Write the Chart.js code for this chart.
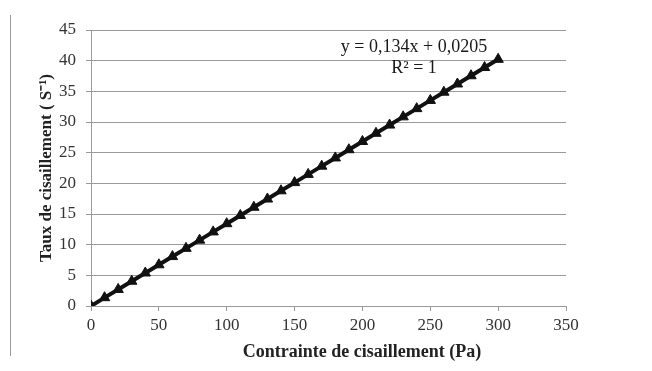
<!DOCTYPE html>
<html>
<head>
<meta charset="utf-8">
<script src="https://cdn.jsdelivr.net/npm/chart.js@4/dist/chart.umd.min.js"></script>
<style>
html,body{margin:0;padding:0;background:#fff;}
#wrap{width:652px;height:371px;position:relative;}
</style>
</head>
<body>
<div id="wrap"><canvas id="c" width="652" height="371"></canvas></div>
<script>
const shearStress = [0,10,20,30,40,50,60,70,80,90,100,110,120,130,140,150,160,170,180,190,200,210,220,230,240,250,260,270,280,290,300];
const shearRate = [0,1.36,2.70,4.04,5.38,6.72,8.06,9.40,10.74,12.08,13.42,14.76,16.10,17.44,18.78,20.12,21.46,22.80,24.14,25.48,26.82,28.16,29.50,30.84,32.18,33.52,34.86,36.20,37.54,38.88,40.22];
const xTicks = [0,50,100,150,200,250,300,350];
const yTicks = [0,5,10,15,20,25,30,35,40,45];
const eqLine1 = 'y = 0,134x + 0,0205';
const eqLine2 = 'R² = 1';
const xTitle = 'Contrainte de cisaillement (Pa)';
const yTitle = 'Taux de cisaillement ( S⁻¹)';

const FONT = '"Liberation Serif", "Times New Roman", serif';

const extras = {
  id: 'extras',
  afterDraw(chart) {
    const ctx = chart.ctx;
    ctx.save();
    ctx.strokeStyle = '#9a9a9a';
    ctx.lineWidth = 1;
    ctx.beginPath();
    ctx.moveTo(10.5, 15);
    ctx.lineTo(10.5, 356);
    ctx.stroke();
    ctx.fillStyle = '#1a1a1a';
    ctx.font = '18px ' + FONT;
    ctx.textAlign = 'center';
    ctx.textBaseline = 'middle';
    ctx.fillText(eqLine1, 414, 47);
    ctx.fillText(eqLine2, 414, 68);
    // x axis title (offset to the right as in the original)
    ctx.fillStyle = '#222';
    ctx.font = 'bold 18px ' + FONT;
    ctx.fillText(xTitle, 362, 352);
    ctx.restore();
  }
};

new Chart(document.getElementById('c'), {
  type: 'scatter',
  data: {
    datasets: [{
      data: shearStress.map((x, i) => ({x: x, y: shearRate[i]})),
      showLine: true,
      borderColor: '#111',
      backgroundColor: '#111',
      borderWidth: 4,
      pointStyle: 'triangle',
      pointRadius: 6,
      pointBorderWidth: 1,
      pointBorderColor: '#111',
      pointBackgroundColor: '#111'
    }]
  },
  options: {
    responsive: false,
    animation: false,
    events: [],
    layout: { padding: { left: 33, right: 86, top: 30, bottom: 0 } },
    plugins: { legend: { display: false }, tooltip: { enabled: false } },
    scales: {
      x: {
        type: 'linear',
        min: 0, max: 350,
        afterBuildTicks: s => { s.ticks = xTicks.map(v => ({value: v})); },
        afterFit: s => { s.height = 65; },
        grid: { display: true, drawOnChartArea: false, drawTicks: true, tickLength: 5, color: '#9a9a9a' },
        border: { display: true, color: '#9a9a9a', width: 1 },
        ticks: { color: '#333', font: { family: FONT, size: 17 }, padding: 4, maxRotation: 0 },
        title: { display: false }
      },
      y: {
        type: 'linear',
        min: 0, max: 45,
        afterBuildTicks: s => { s.ticks = yTicks.map(v => ({value: v})); },
        afterFit: s => { s.width = 58; },
        grid: { display: true, drawTicks: true, tickLength: 5, color: '#9a9a9a' },
        border: { display: true, color: '#9a9a9a', width: 1 },
        ticks: { color: '#333', font: { family: FONT, size: 17 }, padding: 10 },
        title: { display: true, text: yTitle, color: '#222', font: { family: FONT, size: 17, weight: 'bold' }, padding: { top: 3, bottom: 0 } }
      }
    }
  },
  plugins: [extras]
});
</script>
</body>
</html>
